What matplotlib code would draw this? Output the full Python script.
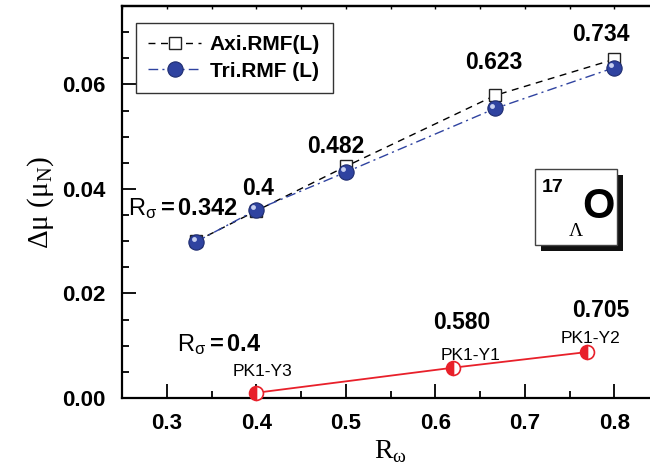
import matplotlib
matplotlib.use('Agg')
import matplotlib.pyplot as plt
from matplotlib.patches import Rectangle
from matplotlib.ticker import MultipleLocator
import matplotlib.transforms as mtrans

# 데이터
x_axi = [0.333, 0.4, 0.5, 0.667, 0.8]
y_axi = [0.0300, 0.0358, 0.0443, 0.0579, 0.0648]
x_tri = [0.333, 0.4, 0.5, 0.667, 0.8]
y_tri = [0.0299, 0.0360, 0.0432, 0.0554, 0.0632]
x_pk = [0.4, 0.62, 0.77]
y_pk = [0.0010, 0.0058, 0.0088]
pk_names = ['PK1-Y3', 'PK1-Y1', 'PK1-Y2']
rs_top = ['0.4', '0.482', '0.623', '0.734']
rs_bot = ['0.580', '0.705']

plt.rcParams['font.family'] = ['Liberation Sans', 'DejaVu Sans']
plt.rcParams['mathtext.fontset'] = 'custom'
plt.rcParams['mathtext.rm'] = 'Liberation Sans'
plt.rcParams['mathtext.bf'] = 'Liberation Sans:bold'
plt.rcParams['mathtext.it'] = 'Liberation Sans:italic'

fig = plt.figure(figsize=(6.5, 4.7), dpi=100)
ax = fig.add_axes([122/650, 72/470, 537/650, 392/470])

blue = '#2f43a0'
red = '#e8202a'

ax.plot(x_axi, y_axi, ls=(0, (5, 4)), color='black', lw=1.0, marker='s', ms=9,
        mfc='white', mec='#222222', mew=1.0, label='Axi.RMF(L)', zorder=3)
ax.plot(x_tri, y_tri, ls=(0, (7, 3, 1.5, 3)), color=blue, lw=1.0, marker='o', ms=11,
        mfc=blue, mec='#1f2d70', mew=0.8, label='Tri.RMF (L)', zorder=4)
# 구 모양 하이라이트
hl = ax.transData + mtrans.ScaledTranslation(-2/72, 2/72, fig.dpi_scale_trans)
ax.plot(x_tri, y_tri, ls='none', marker='o', ms=3.5, mfc='#c8d0f0', mec='none',
        transform=hl, zorder=5)
ax.plot(x_pk, y_pk, '-', color=red, lw=1.3, marker='o', ms=10, fillstyle='left',
        mfc=red, mfcalt='white', mec=red, mew=1.2, zorder=4, clip_on=False)

ax.set_xlim(0.25, 0.85)
ax.set_ylim(0.0, 0.075)
ax.xaxis.set_major_locator(MultipleLocator(0.1))
ax.xaxis.set_minor_locator(MultipleLocator(0.05))
ax.yaxis.set_major_locator(MultipleLocator(0.02))
ax.yaxis.set_minor_locator(MultipleLocator(0.005))
ax.tick_params(which='major', direction='in', length=10, width=1.3, labelsize=16)
ax.tick_params(which='minor', direction='in', length=5, width=1.3)
ax.tick_params(axis='x', pad=11)
ax.tick_params(axis='y', pad=12)
ax.set_xticks([0.3, 0.4, 0.5, 0.6, 0.7, 0.8])
ax.set_xticklabels(['0.3', '0.4', '0.5', '0.6', '0.7', '0.8'], fontweight='bold')
ax.set_yticks([0.0, 0.02, 0.04, 0.06])
ax.set_yticklabels(['0.00', '0.02', '0.04', '0.06'], fontweight='bold')
for s in ax.spines.values():
    s.set_linewidth(1.6)

top = ax.secondary_xaxis('top')
top.set_xticks([0.25 + 0.05 * i for i in range(13)])
top.tick_params(direction='in', length=2.5, width=1.0, labeltop=False)
top.spines['top'].set_linewidth(1.6)

ax.set_ylabel('Δμ (μ$_{\\mathregular{N}}$)', family='Liberation Serif', fontsize=21, labelpad=4)
ax.set_xlabel('R$_{\\mathregular{ω}}$', family='Liberation Serif', fontsize=20, labelpad=3)

# 주석
ax.text(0.402, 0.0401, rs_top[0], fontsize=16.5, fontweight='bold', ha='center', va='center')
ax.text(0.489, 0.0481, rs_top[1], fontsize=16.5, fontweight='bold', ha='center', va='center')
ax.text(0.665, 0.0641, rs_top[2], fontsize=16.5, fontweight='bold', ha='center', va='center')
ax.text(0.785, 0.0696, rs_top[3], fontsize=16.5, fontweight='bold', ha='center', va='center')
ax.text(0.630, 0.0144, rs_bot[0], fontsize=16.5, fontweight='bold', ha='center', va='center')
ax.text(0.785, 0.0167, rs_bot[1], fontsize=16.5, fontweight='bold', ha='center', va='center')
ax.text(0.257, 0.0362, r'R$_{\mathregular{σ}}$$\mathbf{=0.342}$', fontsize=17, ha='left', va='center')
ax.text(0.312, 0.0103, r'R$_{\mathregular{σ}}$$\mathbf{=0.4}$', fontsize=17, ha='left', va='center')

ax.text(0.4066, 0.0051, pk_names[0], fontsize=12.5, ha='center', va='center')
ax.text(0.639, 0.0082, pk_names[1], fontsize=12.5, ha='center', va='center')
ax.text(0.7735, 0.0113, pk_names[2], fontsize=12.5, ha='center', va='center')

# 핵 표시 박스
ax.add_patch(Rectangle((0.780, 0.376), 0.153, 0.194, transform=ax.transAxes,
                       facecolor='#111111', edgecolor='none', zorder=5))
ax.add_patch(Rectangle((0.769, 0.391), 0.153, 0.194, transform=ax.transAxes,
                       facecolor='white', edgecolor='#444444', lw=1.0, zorder=6))
ax.text(0.801, 0.537, '17', transform=ax.transAxes, fontsize=14, fontweight='bold',
        ha='center', va='center', zorder=7)
ax.text(0.845, 0.424, 'Λ', transform=ax.transAxes, fontsize=14, family='Liberation Serif',
        ha='center', va='center', zorder=7)
ax.text(0.888, 0.487, 'O', transform=ax.transAxes, fontsize=30, fontweight='bold',
        ha='center', va='center', zorder=7)

leg = ax.legend(loc='upper left', bbox_to_anchor=(0.026, 0.957), fancybox=False,
                edgecolor='#333333', framealpha=1, borderaxespad=0,
                prop={'weight': 'bold', 'size': 15}, handlelength=2.5,
                borderpad=0.6, labelspacing=0.35, handletextpad=0.45)
leg.get_frame().set_linewidth(1.0)

plt.savefig('out.png', dpi=100)
